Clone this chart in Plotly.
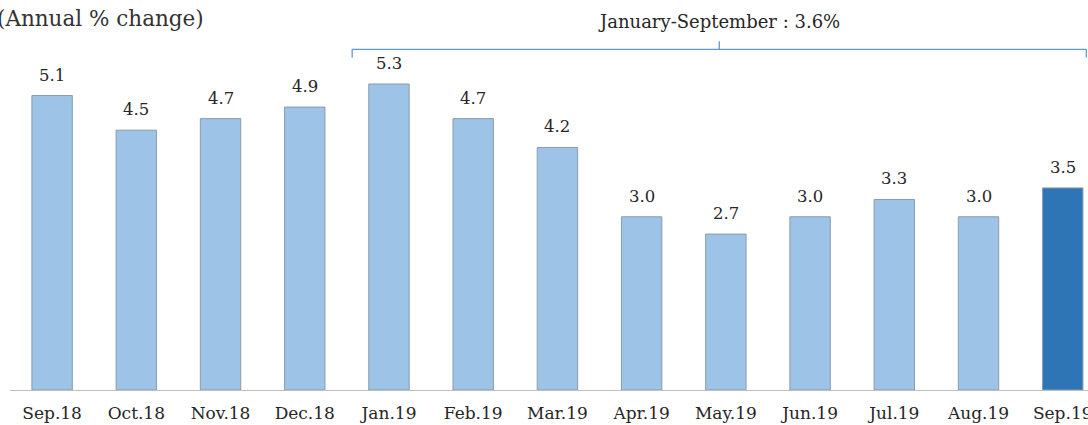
import plotly.graph_objects as go

months = ["Sep.18", "Oct.18", "Nov.18", "Dec.18", "Jan.19", "Feb.19", "Mar.19",
          "Apr.19", "May.19", "Jun.19", "Jul.19", "Aug.19", "Sep.19"]
values = [5.1, 4.5, 4.7, 4.9, 5.3, 4.7, 4.2, 3.0, 2.7, 3.0, 3.3, 3.0, 3.5]
bracket_label = "January-September : 3.6%"
subtitle = "(Annual % change)"

light = "#9DC3E6"
dark = "#2E75B6"
colors = [light] * (len(values) - 1) + [dark]
xs = list(range(len(months)))
FAM = "DejaVu Serif"
TXT = "#262626"

fig = go.Figure()
fig.add_trace(go.Bar(
    x=xs, y=values, width=0.48,
    marker=dict(color=colors, line=dict(color="#8C9BAE", width=1)),
    hoverinfo="skip",
))

for x, v in zip(xs, values):
    fig.add_annotation(x=x, y=v, text=f"{v:.1f}", showarrow=False,
                       yanchor="bottom", yshift=9,
                       font=dict(family=FAM, size=16.5, color=TXT))

fig.update_layout(
    width=1088, height=425,
    margin=dict(l=10, r=0, t=32, b=35, autoexpand=False),
    plot_bgcolor="white", paper_bgcolor="white",
    showlegend=False,
    xaxis=dict(range=[-0.5, 12.3], tickvals=xs, ticktext=months,
               showgrid=False, zeroline=False, showline=True,
               linecolor="#BFBFBF", linewidth=1, ticks="",
               tickfont=dict(family=FAM, size=17, color=TXT),
               ticklabelstandoff=8, ticklabeloverflow="allow",
               automargin=False),
    yaxis=dict(range=[0, 6.2], visible=False, automargin=False),
)

# subtitle
fig.add_annotation(text=subtitle, xref="paper", yref="paper", x=-0.0135, y=1.039,
                   xanchor="left", yanchor="middle", showarrow=False,
                   font=dict(family=FAM, size=21.5, color="#333333"))

# bracket
start = 3.563
end = 12.28
mid = (start + end) / 2
by = 5.90
bc = "#5B9BD5"
lw = 1.3
fig.add_shape(type="line", x0=start, x1=end, y0=by, y1=by, xref="x", yref="y",
              line=dict(color=bc, width=lw))
fig.add_shape(type="line", x0=start, x1=start, y0=by, y1=by - 0.14, xref="x", yref="y",
              line=dict(color=bc, width=lw))
fig.add_shape(type="line", x0=end, x1=end, y0=by, y1=by - 0.14, xref="x", yref="y",
              line=dict(color=bc, width=lw))
fig.add_shape(type="line", x0=mid, x1=mid, y0=by, y1=by + 0.14, xref="x", yref="y",
              line=dict(color=bc, width=lw))
fig.add_annotation(text=bracket_label, x=mid, y=by, xref="x", yref="y",
                   showarrow=False, yanchor="middle", yshift=28,
                   font=dict(family=FAM, size=18, color=TXT))

fig.write_html(
    "out.html", config={"displayModeBar": False},
    post_script=(
        "document.body.style.margin='0';"
        "document.body.style.overflow='hidden';"
        "document.documentElement.style.overflow='hidden';"
    ),
)
